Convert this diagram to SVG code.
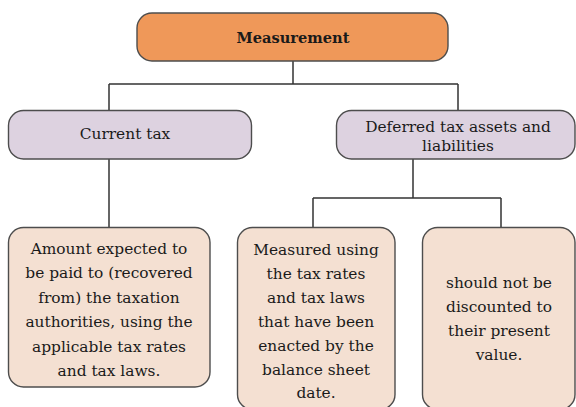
<svg xmlns="http://www.w3.org/2000/svg" width="576" height="407" viewBox="0 0 576 407">
<style>
text{font-family:"DejaVu Serif","Liberation Serif",serif;font-size:15.4px;fill:#1a1a1a;text-anchor:middle}
.b{font-weight:bold;font-size:14.6px}
.box{stroke:#4d4d4d;stroke-width:1.4}
.top{fill:#EF9859}
.mid{fill:#DDD2E0}
.low{fill:#F4E0D2}
.conn{fill:none;stroke:#333;stroke-width:1.5}
</style>
<rect width="576" height="407" fill="#fff"/>
<g id="connectors">
<path class="conn" d="M293 61V84M109 84H458M109 84V110M458 84V110"/>
<path class="conn" d="M109 159V227"/>
<path class="conn" d="M413 159V198M313 198H501M313 198V227M501 198V227"/>
</g>
<g id="measurement">
<rect class="box top" x="137" y="13" width="311" height="48" rx="15"/>
<text class="b" x="293" y="43">Measurement</text>
</g>
<g id="current-tax">
<rect class="box mid" x="8.5" y="110.5" width="243" height="48.5" rx="15"/>
<text x="125" y="139">Current tax</text>
</g>
<g id="deferred-tax">
<rect class="box mid" x="336.5" y="110.5" width="238.5" height="48.5" rx="15"/>
<text x="458" y="132">Deferred tax assets and</text>
<text x="458" y="150.5">liabilities</text>
</g>
<g id="current-measure">
<rect class="box low" x="8.5" y="227.5" width="201.5" height="159.5" rx="15"/>
<text x="109" y="253.5">Amount expected to</text>
<text x="109" y="278">be paid to (recovered</text>
<text x="109" y="302.5">from) the taxation</text>
<text x="109" y="327">authorities, using the</text>
<text x="109" y="351.5">applicable tax rates</text>
<text x="109" y="376">and tax laws.</text>
</g>
<g id="deferred-rates">
<rect class="box low" x="237.5" y="227.5" width="157.5" height="182" rx="15"/>
<text x="316" y="255">Measured using</text>
<text x="316" y="279">the tax rates</text>
<text x="316" y="303">and tax laws</text>
<text x="316" y="327">that have been</text>
<text x="316" y="350.5">enacted by the</text>
<text x="316" y="374.5">balance sheet</text>
<text x="316" y="398">date.</text>
</g>
<g id="deferred-discount">
<rect class="box low" x="422.5" y="227.5" width="152.5" height="182" rx="15"/>
<text x="499" y="288">should not be</text>
<text x="499" y="312">discounted to</text>
<text x="499" y="336">their present</text>
<text x="499" y="360">value.</text>
</g>
</svg>
